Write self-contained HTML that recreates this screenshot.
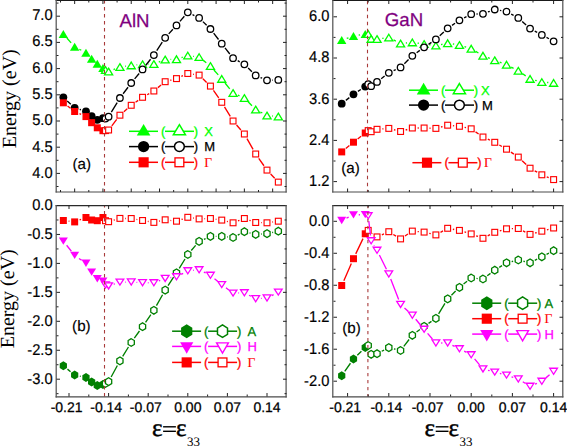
<!DOCTYPE html>
<html><head><meta charset="utf-8"><title>AlN GaN strain</title>
<style>
html,body{margin:0;padding:0;background:#fff;}
body{width:567px;height:446px;overflow:hidden;font-family:"Liberation Sans", sans-serif;}
svg{display:block;}
</style></head>
<body>
<svg text-rendering="geometricPrecision" width="567" height="446" viewBox="0 0 567 446">
<rect x="0" y="0" width="567" height="446" fill="#fff"/>
<path d="M66.87 38.06L71.13 42.84M79.36 49.25L81.27 50.25M113.53 69.54L114.99 68.96M125.16 66.26L125.98 66.14M136.51 64.89L137.27 64.81M147.84 64.16L148.56 64.14M158.78 62.04L160.25 61.46M170.47 59.36L171.19 59.34M181.54 57.59L182.75 57.21M193.05 56.3L193.86 56.4M203.28 60.38L206.26 62.72M213.92 69.98L218.25 74.92M225.06 83.03L229.74 88.87M237.9 95.14L239.52 95.86M248.09 101.78L251.97 105.72M260.37 111.98L262.32 113.02M272.28 115.97L273.03 116.03" fill="none" stroke="#00ff00" stroke-width="1.35" stroke-linecap="butt"/>
<polygon points="63.35,30.1 68.05,38.1 58.65,38.1" fill="#00ff00" stroke="none" stroke-width="0" stroke-linejoin="miter"/>
<polygon points="74.66,42.8 79.36,50.8 69.96,50.8" fill="#00ff00" stroke="none" stroke-width="0" stroke-linejoin="miter"/>
<polygon points="85.97,48.7 90.67,56.7 81.27,56.7" fill="#00ff00" stroke="none" stroke-width="0" stroke-linejoin="miter"/>
<polygon points="91.63,54.8 96.33,62.8 86.93,62.8" fill="#00ff00" stroke="none" stroke-width="0" stroke-linejoin="miter"/>
<polygon points="97.29,59.7 101.99,67.7 92.59,67.7" fill="#00ff00" stroke="none" stroke-width="0" stroke-linejoin="miter"/>
<polygon points="102.95,64 107.65,72 98.25,72" fill="#00ff00" stroke="none" stroke-width="0" stroke-linejoin="miter"/>
<polygon points="105.49,66.65 109.54,73.35 101.44,73.35" fill="#fff" stroke="#00ff00" stroke-width="1.3" stroke-linejoin="miter"/>
<polygon points="108.6,68.15 112.65,74.85 104.55,74.85" fill="#fff" stroke="#00ff00" stroke-width="1.3" stroke-linejoin="miter"/>
<polygon points="119.92,63.65 123.97,70.35 115.87,70.35" fill="#fff" stroke="#00ff00" stroke-width="1.3" stroke-linejoin="miter"/>
<polygon points="131.23,62.05 135.28,68.75 127.18,68.75" fill="#fff" stroke="#00ff00" stroke-width="1.3" stroke-linejoin="miter"/>
<polygon points="142.54,60.95 146.59,67.65 138.49,67.65" fill="#fff" stroke="#00ff00" stroke-width="1.3" stroke-linejoin="miter"/>
<polygon points="153.86,60.65 157.91,67.35 149.81,67.35" fill="#fff" stroke="#00ff00" stroke-width="1.3" stroke-linejoin="miter"/>
<polygon points="165.17,56.15 169.22,62.85 161.12,62.85" fill="#fff" stroke="#00ff00" stroke-width="1.3" stroke-linejoin="miter"/>
<polygon points="176.49,55.85 180.54,62.55 172.44,62.55" fill="#fff" stroke="#00ff00" stroke-width="1.3" stroke-linejoin="miter"/>
<polygon points="187.8,52.25 191.85,58.95 183.75,58.95" fill="#fff" stroke="#00ff00" stroke-width="1.3" stroke-linejoin="miter"/>
<polygon points="199.11,53.75 203.16,60.45 195.06,60.45" fill="#fff" stroke="#00ff00" stroke-width="1.3" stroke-linejoin="miter"/>
<polygon points="210.43,62.65 214.48,69.35 206.38,69.35" fill="#fff" stroke="#00ff00" stroke-width="1.3" stroke-linejoin="miter"/>
<polygon points="221.74,75.55 225.79,82.25 217.69,82.25" fill="#fff" stroke="#00ff00" stroke-width="1.3" stroke-linejoin="miter"/>
<polygon points="233.06,89.65 237.11,96.35 229.01,96.35" fill="#fff" stroke="#00ff00" stroke-width="1.3" stroke-linejoin="miter"/>
<polygon points="244.37,94.65 248.42,101.35 240.32,101.35" fill="#fff" stroke="#00ff00" stroke-width="1.3" stroke-linejoin="miter"/>
<polygon points="255.68,106.15 259.73,112.85 251.63,112.85" fill="#fff" stroke="#00ff00" stroke-width="1.3" stroke-linejoin="miter"/>
<polygon points="267,112.15 271.05,118.85 262.95,118.85" fill="#fff" stroke="#00ff00" stroke-width="1.3" stroke-linejoin="miter"/>
<polygon points="278.31,113.15 282.36,119.85 274.26,119.85" fill="#fff" stroke="#00ff00" stroke-width="1.3" stroke-linejoin="miter"/>
<path d="M67.23 100.91L70.78 104.19M79.72 109.37L80.91 109.73M111.35 112.17L117.17 102.53M123.11 93.77L128.04 87.23M134.62 78.93L139.15 73.47M145.83 65.24L150.57 59.26M156.76 50.66L162.27 42.24M168.74 33.88L172.91 29.32M179.95 21.39L184.34 16.31M192.55 14.65L194.36 15.55M202.9 21.61L206.64 25.29M213.66 33.2L218.51 39.5M225 47.88L229.8 54.02M237.72 60.72L239.7 61.78M248.15 68.01L251.9 71.69M260.55 77.51L262.13 78.19M272.29 80.11L273.02 80.09" fill="none" stroke="#000000" stroke-width="1.35" stroke-linecap="butt"/>
<circle cx="63.35" cy="97.3" r="3.9" fill="#000000"/>
<circle cx="74.66" cy="107.8" r="3.9" fill="#000000"/>
<circle cx="85.97" cy="111.3" r="3.9" fill="#000000"/>
<circle cx="91.63" cy="116.1" r="3.9" fill="#000000"/>
<circle cx="97.29" cy="119.8" r="3.9" fill="#000000"/>
<circle cx="102.95" cy="118.2" r="3.9" fill="#000000"/>
<circle cx="105.49" cy="118.6" r="3.25" fill="#fff" stroke="#000000" stroke-width="1.3"/>
<circle cx="108.6" cy="116.7" r="3.25" fill="#fff" stroke="#000000" stroke-width="1.3"/>
<circle cx="119.92" cy="98" r="3.25" fill="#fff" stroke="#000000" stroke-width="1.3"/>
<circle cx="131.23" cy="83" r="3.25" fill="#fff" stroke="#000000" stroke-width="1.3"/>
<circle cx="142.54" cy="69.4" r="3.25" fill="#fff" stroke="#000000" stroke-width="1.3"/>
<circle cx="153.86" cy="55.1" r="3.25" fill="#fff" stroke="#000000" stroke-width="1.3"/>
<circle cx="165.17" cy="37.8" r="3.25" fill="#fff" stroke="#000000" stroke-width="1.3"/>
<circle cx="176.49" cy="25.4" r="3.25" fill="#fff" stroke="#000000" stroke-width="1.3"/>
<circle cx="187.8" cy="12.3" r="3.25" fill="#fff" stroke="#000000" stroke-width="1.3"/>
<circle cx="199.11" cy="17.9" r="3.25" fill="#fff" stroke="#000000" stroke-width="1.3"/>
<circle cx="210.43" cy="29" r="3.25" fill="#fff" stroke="#000000" stroke-width="1.3"/>
<circle cx="221.74" cy="43.7" r="3.25" fill="#fff" stroke="#000000" stroke-width="1.3"/>
<circle cx="233.06" cy="58.2" r="3.25" fill="#fff" stroke="#000000" stroke-width="1.3"/>
<circle cx="244.37" cy="64.3" r="3.25" fill="#fff" stroke="#000000" stroke-width="1.3"/>
<circle cx="255.68" cy="75.4" r="3.25" fill="#fff" stroke="#000000" stroke-width="1.3"/>
<circle cx="267" cy="80.3" r="3.25" fill="#fff" stroke="#000000" stroke-width="1.3"/>
<circle cx="278.31" cy="79.9" r="3.25" fill="#fff" stroke="#000000" stroke-width="1.3"/>
<path d="M67.55 106.03L70.46 108.27M79.49 113.68L81.14 114.42M111.82 125.79L116.7 119.41M123.9 111.71L127.24 108.79M135.56 102.24L138.22 100.36M147.17 94.72L149.23 93.58M157.95 87.63L161.08 85.07M170.28 80.3L171.37 80M181.32 76.42L182.97 75.68M193.05 74.24L193.87 74.36M202.91 78.79L206.63 82.41M213.46 90.45L218.71 97.95M224.49 106.83L230.31 116.47M236.54 125L240.89 130M246.98 138.61L253.07 149.39M258.73 158.34L263.95 165.76M270.63 173.96L274.68 178.24" fill="none" stroke="#ff0000" stroke-width="1.35" stroke-linecap="butt"/>
<rect x="59.85" y="99.3" width="7" height="7" fill="#ff0000"/>
<rect x="71.16" y="108" width="7" height="7" fill="#ff0000"/>
<rect x="82.47" y="113.1" width="7" height="7" fill="#ff0000"/>
<rect x="88.13" y="119.2" width="7" height="7" fill="#ff0000"/>
<rect x="93.79" y="124.3" width="7" height="7" fill="#ff0000"/>
<rect x="99.45" y="127.2" width="7" height="7" fill="#ff0000"/>
<rect x="102.56" y="127.67" width="5.86" height="5.86" fill="#fff" stroke="#ff0000" stroke-width="1.14"/>
<rect x="105.67" y="127.07" width="5.86" height="5.86" fill="#fff" stroke="#ff0000" stroke-width="1.14"/>
<rect x="116.99" y="112.27" width="5.86" height="5.86" fill="#fff" stroke="#ff0000" stroke-width="1.14"/>
<rect x="128.3" y="102.37" width="5.86" height="5.86" fill="#fff" stroke="#ff0000" stroke-width="1.14"/>
<rect x="139.62" y="94.37" width="5.86" height="5.86" fill="#fff" stroke="#ff0000" stroke-width="1.14"/>
<rect x="150.93" y="88.07" width="5.86" height="5.86" fill="#fff" stroke="#ff0000" stroke-width="1.14"/>
<rect x="162.24" y="78.77" width="5.86" height="5.86" fill="#fff" stroke="#ff0000" stroke-width="1.14"/>
<rect x="173.56" y="75.67" width="5.86" height="5.86" fill="#fff" stroke="#ff0000" stroke-width="1.14"/>
<rect x="184.87" y="70.57" width="5.86" height="5.86" fill="#fff" stroke="#ff0000" stroke-width="1.14"/>
<rect x="196.19" y="72.17" width="5.86" height="5.86" fill="#fff" stroke="#ff0000" stroke-width="1.14"/>
<rect x="207.5" y="83.17" width="5.86" height="5.86" fill="#fff" stroke="#ff0000" stroke-width="1.14"/>
<rect x="218.81" y="99.37" width="5.86" height="5.86" fill="#fff" stroke="#ff0000" stroke-width="1.14"/>
<rect x="230.13" y="118.07" width="5.86" height="5.86" fill="#fff" stroke="#ff0000" stroke-width="1.14"/>
<rect x="241.44" y="131.07" width="5.86" height="5.86" fill="#fff" stroke="#ff0000" stroke-width="1.14"/>
<rect x="252.76" y="151.07" width="5.86" height="5.86" fill="#fff" stroke="#ff0000" stroke-width="1.14"/>
<rect x="264.07" y="167.17" width="5.86" height="5.86" fill="#fff" stroke="#ff0000" stroke-width="1.14"/>
<rect x="275.38" y="179.17" width="5.86" height="5.86" fill="#fff" stroke="#ff0000" stroke-width="1.14"/>
<path d="M67.46 369.14L70.55 371.66M79.84 376.1L80.79 376.3M111.14 376.95L117.37 365.55M122.69 356.39L128.45 347.01M134.32 338.19L139.46 331.01M145.55 322.34L150.85 314.66M156.45 305.68L162.58 294.72M168.07 285.66L173.59 277.24M179.27 268.29L185.01 259.01M191.26 250.49L195.65 245.41M203.96 239.26L205.58 238.54M215.73 236.4L216.44 236.4M227.02 236.91L227.78 236.99M237.77 235.08L239.65 234.12M249.53 232.93L250.53 233.17M260.97 234.03L261.71 233.97M272.18 232.5L273.13 232.3" fill="none" stroke="#008000" stroke-width="1.35" stroke-linecap="butt"/>
<polygon points="63.35,361.3 59.72,363.55 59.72,368.05 63.35,370.3 66.97,368.05 66.97,363.55" fill="#008000" stroke="none" stroke-width="0" stroke-linejoin="miter"/>
<polygon points="74.66,370.5 71.04,372.75 71.04,377.25 74.66,379.5 78.28,377.25 78.28,372.75" fill="#008000" stroke="none" stroke-width="0" stroke-linejoin="miter"/>
<polygon points="85.97,372.9 82.35,375.15 82.35,379.65 85.97,381.9 89.6,379.65 89.6,375.15" fill="#008000" stroke="none" stroke-width="0" stroke-linejoin="miter"/>
<polygon points="91.63,377.5 88.01,379.75 88.01,384.25 91.63,386.5 95.26,384.25 95.26,379.75" fill="#008000" stroke="none" stroke-width="0" stroke-linejoin="miter"/>
<polygon points="97.29,380.9 93.66,383.15 93.66,387.65 97.29,389.9 100.91,387.65 100.91,383.15" fill="#008000" stroke="none" stroke-width="0" stroke-linejoin="miter"/>
<polygon points="102.95,379.9 99.32,382.15 99.32,386.65 102.95,388.9 106.57,386.65 106.57,382.15" fill="#008000" stroke="none" stroke-width="0" stroke-linejoin="miter"/>
<polygon points="105.49,379.65 102.39,381.57 102.39,385.43 105.49,387.35 108.59,385.43 108.59,381.57" fill="#fff" stroke="#008000" stroke-width="1.3" stroke-linejoin="miter"/>
<polygon points="108.6,377.75 105.5,379.68 105.5,383.53 108.6,385.45 111.7,383.53 111.7,379.68" fill="#fff" stroke="#008000" stroke-width="1.3" stroke-linejoin="miter"/>
<polygon points="119.92,357.05 116.82,358.97 116.82,362.82 119.92,364.75 123.02,362.82 123.02,358.97" fill="#fff" stroke="#008000" stroke-width="1.3" stroke-linejoin="miter"/>
<polygon points="131.23,338.65 128.13,340.57 128.13,344.43 131.23,346.35 134.33,344.43 134.33,340.57" fill="#fff" stroke="#008000" stroke-width="1.3" stroke-linejoin="miter"/>
<polygon points="142.54,322.85 139.44,324.77 139.44,328.62 142.54,330.55 145.64,328.62 145.64,324.77" fill="#fff" stroke="#008000" stroke-width="1.3" stroke-linejoin="miter"/>
<polygon points="153.86,306.45 150.76,308.38 150.76,312.23 153.86,314.15 156.96,312.23 156.96,308.38" fill="#fff" stroke="#008000" stroke-width="1.3" stroke-linejoin="miter"/>
<polygon points="165.17,286.25 162.07,288.18 162.07,292.03 165.17,293.95 168.27,292.03 168.27,288.18" fill="#fff" stroke="#008000" stroke-width="1.3" stroke-linejoin="miter"/>
<polygon points="176.49,268.95 173.39,270.88 173.39,274.73 176.49,276.65 179.59,274.73 179.59,270.88" fill="#fff" stroke="#008000" stroke-width="1.3" stroke-linejoin="miter"/>
<polygon points="187.8,250.65 184.7,252.57 184.7,256.43 187.8,258.35 190.9,256.43 190.9,252.57" fill="#fff" stroke="#008000" stroke-width="1.3" stroke-linejoin="miter"/>
<polygon points="199.11,237.55 196.01,239.47 196.01,243.33 199.11,245.25 202.21,243.33 202.21,239.47" fill="#fff" stroke="#008000" stroke-width="1.3" stroke-linejoin="miter"/>
<polygon points="210.43,232.55 207.33,234.47 207.33,238.33 210.43,240.25 213.53,238.33 213.53,234.47" fill="#fff" stroke="#008000" stroke-width="1.3" stroke-linejoin="miter"/>
<polygon points="221.74,232.55 218.64,234.47 218.64,238.33 221.74,240.25 224.84,238.33 224.84,234.47" fill="#fff" stroke="#008000" stroke-width="1.3" stroke-linejoin="miter"/>
<polygon points="233.06,233.65 229.96,235.57 229.96,239.43 233.06,241.35 236.16,239.43 236.16,235.57" fill="#fff" stroke="#008000" stroke-width="1.3" stroke-linejoin="miter"/>
<polygon points="244.37,227.85 241.27,229.77 241.27,233.62 244.37,235.55 247.47,233.62 247.47,229.77" fill="#fff" stroke="#008000" stroke-width="1.3" stroke-linejoin="miter"/>
<polygon points="255.68,230.55 252.58,232.47 252.58,236.33 255.68,238.25 258.78,236.33 258.78,232.47" fill="#fff" stroke="#008000" stroke-width="1.3" stroke-linejoin="miter"/>
<polygon points="267,229.75 263.9,231.67 263.9,235.53 267,237.45 270.1,235.53 270.1,231.67" fill="#fff" stroke="#008000" stroke-width="1.3" stroke-linejoin="miter"/>
<polygon points="278.31,227.35 275.21,229.27 275.21,233.12 278.31,235.05 281.41,233.12 281.41,229.27" fill="#fff" stroke="#008000" stroke-width="1.3" stroke-linejoin="miter"/>
<path d="M66.63 245.26L71.37 251.24M79.01 258.43L81.63 260.27M113.63 284.21L114.89 283.79M125.22 282.05L125.93 282.05M136.52 282.33L137.25 282.37M147.84 282.75L148.56 282.75M158.8 280.88L160.23 280.32M170.42 277.66L171.24 277.54M181.17 274.32L183.12 273.28M193.08 270.33L193.83 270.27M203.88 272.12L205.66 272.98M214.52 278.67L217.65 281.23M225.98 287.78L228.82 289.92M238.35 292.96L239.07 292.94M249.07 295.25L250.98 296.25M260.97 298.37L261.71 298.33M271.7 295.55L273.61 294.55" fill="none" stroke="#ff00ff" stroke-width="1.35" stroke-linecap="butt"/>
<polygon points="58.85,237.4 67.85,237.4 63.35,244.8" fill="#ff00ff" stroke="none" stroke-width="0" stroke-linejoin="miter"/>
<polygon points="70.16,251.7 79.16,251.7 74.66,259.1" fill="#ff00ff" stroke="none" stroke-width="0" stroke-linejoin="miter"/>
<polygon points="81.47,259.6 90.47,259.6 85.97,267" fill="#ff00ff" stroke="none" stroke-width="0" stroke-linejoin="miter"/>
<polygon points="87.13,268.4 96.13,268.4 91.63,275.8" fill="#ff00ff" stroke="none" stroke-width="0" stroke-linejoin="miter"/>
<polygon points="92.79,275 101.79,275 97.29,282.4" fill="#ff00ff" stroke="none" stroke-width="0" stroke-linejoin="miter"/>
<polygon points="98.45,277.4 107.45,277.4 102.95,284.8" fill="#ff00ff" stroke="none" stroke-width="0" stroke-linejoin="miter"/>
<polygon points="101.64,281.95 109.34,281.95 105.49,288.05" fill="#fff" stroke="#ff00ff" stroke-width="1.3" stroke-linejoin="miter"/>
<polygon points="104.75,282.85 112.45,282.85 108.6,288.95" fill="#fff" stroke="#ff00ff" stroke-width="1.3" stroke-linejoin="miter"/>
<polygon points="116.07,279.05 123.77,279.05 119.92,285.15" fill="#fff" stroke="#ff00ff" stroke-width="1.3" stroke-linejoin="miter"/>
<polygon points="127.38,278.95 135.08,278.95 131.23,285.05" fill="#fff" stroke="#ff00ff" stroke-width="1.3" stroke-linejoin="miter"/>
<polygon points="138.69,279.65 146.39,279.65 142.54,285.75" fill="#fff" stroke="#ff00ff" stroke-width="1.3" stroke-linejoin="miter"/>
<polygon points="150.01,279.75 157.71,279.75 153.86,285.85" fill="#fff" stroke="#ff00ff" stroke-width="1.3" stroke-linejoin="miter"/>
<polygon points="161.32,275.35 169.02,275.35 165.17,281.45" fill="#fff" stroke="#ff00ff" stroke-width="1.3" stroke-linejoin="miter"/>
<polygon points="172.64,273.75 180.34,273.75 176.49,279.85" fill="#fff" stroke="#ff00ff" stroke-width="1.3" stroke-linejoin="miter"/>
<polygon points="183.95,267.75 191.65,267.75 187.8,273.85" fill="#fff" stroke="#ff00ff" stroke-width="1.3" stroke-linejoin="miter"/>
<polygon points="195.26,266.75 202.96,266.75 199.11,272.85" fill="#fff" stroke="#ff00ff" stroke-width="1.3" stroke-linejoin="miter"/>
<polygon points="206.58,272.25 214.28,272.25 210.43,278.35" fill="#fff" stroke="#ff00ff" stroke-width="1.3" stroke-linejoin="miter"/>
<polygon points="217.89,281.55 225.59,281.55 221.74,287.65" fill="#fff" stroke="#ff00ff" stroke-width="1.3" stroke-linejoin="miter"/>
<polygon points="229.21,290.05 236.91,290.05 233.06,296.15" fill="#fff" stroke="#ff00ff" stroke-width="1.3" stroke-linejoin="miter"/>
<polygon points="240.52,289.75 248.22,289.75 244.37,295.85" fill="#fff" stroke="#ff00ff" stroke-width="1.3" stroke-linejoin="miter"/>
<polygon points="251.83,295.65 259.53,295.65 255.68,301.75" fill="#fff" stroke="#ff00ff" stroke-width="1.3" stroke-linejoin="miter"/>
<polygon points="263.15,294.95 270.85,294.95 267,301.05" fill="#fff" stroke="#ff00ff" stroke-width="1.3" stroke-linejoin="miter"/>
<polygon points="274.46,289.05 282.16,289.05 278.31,295.15" fill="#fff" stroke="#ff00ff" stroke-width="1.3" stroke-linejoin="miter"/>
<path d="M68.61 221.15L69.4 221.25M79.6 219.98L81.03 219.42M113.69 220.22L114.83 219.88M125.22 218.45L125.93 218.45M136.45 219.42L137.32 219.58M147.77 221.38L148.63 221.52M159.02 221.21L160.01 220.99M170.43 220.45L171.23 220.55M181.5 219.47L182.79 219.03M193.05 218.04L193.87 218.16M204.41 218.71L205.13 218.69M215.68 219.24L216.49 219.36M226.9 221.33L227.9 221.57M238.01 220.92L239.42 220.38M249.37 220.27L250.69 220.73M260.98 222.64L261.7 222.66M272.25 222.06L273.06 221.94" fill="none" stroke="#ff0000" stroke-width="1.35" stroke-linecap="butt"/>
<rect x="59.85" y="217" width="7" height="7" fill="#ff0000"/>
<rect x="71.16" y="218.4" width="7" height="7" fill="#ff0000"/>
<rect x="82.47" y="214" width="7" height="7" fill="#ff0000"/>
<rect x="88.13" y="216.5" width="7" height="7" fill="#ff0000"/>
<rect x="93.79" y="217.2" width="7" height="7" fill="#ff0000"/>
<rect x="99.45" y="214" width="7" height="7" fill="#ff0000"/>
<rect x="102.56" y="217.77" width="5.86" height="5.86" fill="#fff" stroke="#ff0000" stroke-width="1.14"/>
<rect x="105.67" y="218.77" width="5.86" height="5.86" fill="#fff" stroke="#ff0000" stroke-width="1.14"/>
<rect x="116.99" y="215.47" width="5.86" height="5.86" fill="#fff" stroke="#ff0000" stroke-width="1.14"/>
<rect x="128.3" y="215.57" width="5.86" height="5.86" fill="#fff" stroke="#ff0000" stroke-width="1.14"/>
<rect x="139.62" y="217.57" width="5.86" height="5.86" fill="#fff" stroke="#ff0000" stroke-width="1.14"/>
<rect x="150.93" y="219.47" width="5.86" height="5.86" fill="#fff" stroke="#ff0000" stroke-width="1.14"/>
<rect x="162.24" y="216.87" width="5.86" height="5.86" fill="#fff" stroke="#ff0000" stroke-width="1.14"/>
<rect x="173.56" y="218.27" width="5.86" height="5.86" fill="#fff" stroke="#ff0000" stroke-width="1.14"/>
<rect x="184.87" y="214.37" width="5.86" height="5.86" fill="#fff" stroke="#ff0000" stroke-width="1.14"/>
<rect x="196.19" y="215.97" width="5.86" height="5.86" fill="#fff" stroke="#ff0000" stroke-width="1.14"/>
<rect x="207.5" y="215.57" width="5.86" height="5.86" fill="#fff" stroke="#ff0000" stroke-width="1.14"/>
<rect x="218.81" y="217.17" width="5.86" height="5.86" fill="#fff" stroke="#ff0000" stroke-width="1.14"/>
<rect x="230.13" y="219.87" width="5.86" height="5.86" fill="#fff" stroke="#ff0000" stroke-width="1.14"/>
<rect x="241.44" y="215.57" width="5.86" height="5.86" fill="#fff" stroke="#ff0000" stroke-width="1.14"/>
<rect x="252.76" y="219.57" width="5.86" height="5.86" fill="#fff" stroke="#ff0000" stroke-width="1.14"/>
<rect x="264.07" y="219.87" width="5.86" height="5.86" fill="#fff" stroke="#ff0000" stroke-width="1.14"/>
<rect x="275.38" y="218.27" width="5.86" height="5.86" fill="#fff" stroke="#ff0000" stroke-width="1.14"/>
<path d="M346.74 38.33L348.45 37.77M358.69 35.13L360.04 34.87M382.29 38.37L383.53 38.23M393.53 39.97L395.83 41.13M405.85 43.01L407.06 42.89M417.59 43.11L418.86 43.29M429.36 44.71L430.63 44.89M441.08 44.54L442.46 44.26M452.9 44L454.19 44.2M464.48 46.59L466.14 47.11M475.76 51.41L478.42 52.99M487.91 57.63L489.81 58.37M499.71 62.16L501.55 62.84M511.22 67.14L513.58 68.36M522.65 73.8L525.69 75.9M535.17 80.29L536.72 80.71M547.12 82.46L548.32 82.54" fill="none" stroke="#00ff00" stroke-width="1.35" stroke-linecap="butt"/>
<polygon points="341.71,36 346.41,44 337.01,44" fill="#00ff00" stroke="none" stroke-width="0" stroke-linejoin="miter"/>
<polygon points="353.48,32.1 358.18,40.1 348.78,40.1" fill="#00ff00" stroke="none" stroke-width="0" stroke-linejoin="miter"/>
<polygon points="365.25,29.9 369.95,37.9 360.55,37.9" fill="#00ff00" stroke="none" stroke-width="0" stroke-linejoin="miter"/>
<polygon points="368.19,30.65 372.25,37.35 364.14,37.35" fill="#fff" stroke="#00ff00" stroke-width="1.3" stroke-linejoin="miter"/>
<polygon points="371.14,35.55 375.19,42.25 367.09,42.25" fill="#fff" stroke="#00ff00" stroke-width="1.3" stroke-linejoin="miter"/>
<polygon points="377.02,35.65 381.07,42.35 372.97,42.35" fill="#fff" stroke="#00ff00" stroke-width="1.3" stroke-linejoin="miter"/>
<polygon points="388.8,34.25 392.85,40.95 384.75,40.95" fill="#fff" stroke="#00ff00" stroke-width="1.3" stroke-linejoin="miter"/>
<polygon points="400.57,40.15 404.62,46.85 396.52,46.85" fill="#fff" stroke="#00ff00" stroke-width="1.3" stroke-linejoin="miter"/>
<polygon points="412.34,39.05 416.39,45.75 408.29,45.75" fill="#fff" stroke="#00ff00" stroke-width="1.3" stroke-linejoin="miter"/>
<polygon points="424.11,40.65 428.16,47.35 420.06,47.35" fill="#fff" stroke="#00ff00" stroke-width="1.3" stroke-linejoin="miter"/>
<polygon points="435.88,42.25 439.93,48.95 431.83,48.95" fill="#fff" stroke="#00ff00" stroke-width="1.3" stroke-linejoin="miter"/>
<polygon points="447.66,39.85 451.71,46.55 443.61,46.55" fill="#fff" stroke="#00ff00" stroke-width="1.3" stroke-linejoin="miter"/>
<polygon points="459.43,41.65 463.48,48.35 455.38,48.35" fill="#fff" stroke="#00ff00" stroke-width="1.3" stroke-linejoin="miter"/>
<polygon points="471.2,45.35 475.25,52.05 467.15,52.05" fill="#fff" stroke="#00ff00" stroke-width="1.3" stroke-linejoin="miter"/>
<polygon points="482.97,52.35 487.02,59.05 478.92,59.05" fill="#fff" stroke="#00ff00" stroke-width="1.3" stroke-linejoin="miter"/>
<polygon points="494.74,56.95 498.79,63.65 490.69,63.65" fill="#fff" stroke="#00ff00" stroke-width="1.3" stroke-linejoin="miter"/>
<polygon points="506.52,61.35 510.57,68.05 502.47,68.05" fill="#fff" stroke="#00ff00" stroke-width="1.3" stroke-linejoin="miter"/>
<polygon points="518.29,67.45 522.34,74.15 514.24,74.15" fill="#fff" stroke="#00ff00" stroke-width="1.3" stroke-linejoin="miter"/>
<polygon points="530.06,75.55 534.11,82.25 526.01,82.25" fill="#fff" stroke="#00ff00" stroke-width="1.3" stroke-linejoin="miter"/>
<polygon points="541.83,78.75 545.88,85.45 537.78,85.45" fill="#fff" stroke="#00ff00" stroke-width="1.3" stroke-linejoin="miter"/>
<polygon points="553.6,79.55 557.65,86.25 549.55,86.25" fill="#fff" stroke="#00ff00" stroke-width="1.3" stroke-linejoin="miter"/>
<path d="M345.85 100.39L349.34 97.61M357.92 91.4L360.82 89.5M381.22 78.66L384.6 76.04M393.61 70.59L395.75 69.61M404.34 63.68L408.56 59.52M416.64 52.7L419.82 50.4M428.51 44.35L431.48 42.35M439.74 35.76L443.8 31.94M452.04 25.32L455.04 23.28M464.13 17.86L466.49 16.64M476.5 14.02L477.68 13.98M487.95 11.98L489.77 11.32M499.96 10.43L501.3 10.67M511.19 14.1L513.62 15.4M522.21 21.46L526.14 25.04M534.73 31.1L537.16 32.4M546.49 37.43L548.95 38.77" fill="none" stroke="#000000" stroke-width="1.35" stroke-linecap="butt"/>
<circle cx="341.71" cy="103.7" r="3.9" fill="#000000"/>
<circle cx="353.48" cy="94.3" r="3.9" fill="#000000"/>
<circle cx="365.25" cy="86.6" r="3.9" fill="#000000"/>
<circle cx="368.19" cy="84.2" r="3.25" fill="#fff" stroke="#000000" stroke-width="1.3"/>
<circle cx="371.14" cy="86.2" r="3.25" fill="#fff" stroke="#000000" stroke-width="1.3"/>
<circle cx="377.02" cy="81.9" r="3.25" fill="#fff" stroke="#000000" stroke-width="1.3"/>
<circle cx="388.8" cy="72.8" r="3.25" fill="#fff" stroke="#000000" stroke-width="1.3"/>
<circle cx="400.57" cy="67.4" r="3.25" fill="#fff" stroke="#000000" stroke-width="1.3"/>
<circle cx="412.34" cy="55.8" r="3.25" fill="#fff" stroke="#000000" stroke-width="1.3"/>
<circle cx="424.11" cy="47.3" r="3.25" fill="#fff" stroke="#000000" stroke-width="1.3"/>
<circle cx="435.88" cy="39.4" r="3.25" fill="#fff" stroke="#000000" stroke-width="1.3"/>
<circle cx="447.66" cy="28.3" r="3.25" fill="#fff" stroke="#000000" stroke-width="1.3"/>
<circle cx="459.43" cy="20.3" r="3.25" fill="#fff" stroke="#000000" stroke-width="1.3"/>
<circle cx="471.2" cy="14.2" r="3.25" fill="#fff" stroke="#000000" stroke-width="1.3"/>
<circle cx="482.97" cy="13.8" r="3.25" fill="#fff" stroke="#000000" stroke-width="1.3"/>
<circle cx="494.74" cy="9.5" r="3.25" fill="#fff" stroke="#000000" stroke-width="1.3"/>
<circle cx="506.52" cy="11.6" r="3.25" fill="#fff" stroke="#000000" stroke-width="1.3"/>
<circle cx="518.29" cy="17.9" r="3.25" fill="#fff" stroke="#000000" stroke-width="1.3"/>
<circle cx="530.06" cy="28.6" r="3.25" fill="#fff" stroke="#000000" stroke-width="1.3"/>
<circle cx="541.83" cy="34.9" r="3.25" fill="#fff" stroke="#000000" stroke-width="1.3"/>
<circle cx="553.6" cy="41.3" r="3.25" fill="#fff" stroke="#000000" stroke-width="1.3"/>
<path d="M345.8 148.53L349.39 145.57M357.66 138.94L361.08 136.26M382.31 128.9L383.51 128.8M393.92 129.75L395.44 130.15M405.65 129.99L407.26 129.51M417.64 128L418.81 128M429.41 128.18L430.59 128.22M441 127.01L442.54 126.59M452.93 125.69L454.15 125.81M464.61 127.4L466.02 127.7M475.55 131.83L478.62 133.97M487.8 139.18L489.91 140.12M499.32 144.98L501.94 146.52M510.92 152.15L513.89 154.15M522.14 160.74L526.2 164.56M534.68 170.79L537.21 172.21M546.74 176.8L548.7 177.6" fill="none" stroke="#ff0000" stroke-width="1.35" stroke-linecap="butt"/>
<rect x="338.21" y="148.4" width="7" height="7" fill="#ff0000"/>
<rect x="349.98" y="138.7" width="7" height="7" fill="#ff0000"/>
<rect x="361.75" y="129.5" width="7" height="7" fill="#ff0000"/>
<rect x="365.27" y="127.67" width="5.86" height="5.86" fill="#fff" stroke="#ff0000" stroke-width="1.14"/>
<rect x="368.21" y="128.77" width="5.86" height="5.86" fill="#fff" stroke="#ff0000" stroke-width="1.14"/>
<rect x="374.1" y="126.37" width="5.86" height="5.86" fill="#fff" stroke="#ff0000" stroke-width="1.14"/>
<rect x="385.87" y="125.47" width="5.86" height="5.86" fill="#fff" stroke="#ff0000" stroke-width="1.14"/>
<rect x="397.64" y="128.57" width="5.86" height="5.86" fill="#fff" stroke="#ff0000" stroke-width="1.14"/>
<rect x="409.41" y="125.07" width="5.86" height="5.86" fill="#fff" stroke="#ff0000" stroke-width="1.14"/>
<rect x="421.18" y="125.07" width="5.86" height="5.86" fill="#fff" stroke="#ff0000" stroke-width="1.14"/>
<rect x="432.96" y="125.47" width="5.86" height="5.86" fill="#fff" stroke="#ff0000" stroke-width="1.14"/>
<rect x="444.73" y="122.27" width="5.86" height="5.86" fill="#fff" stroke="#ff0000" stroke-width="1.14"/>
<rect x="456.5" y="123.37" width="5.86" height="5.86" fill="#fff" stroke="#ff0000" stroke-width="1.14"/>
<rect x="468.27" y="125.87" width="5.86" height="5.86" fill="#fff" stroke="#ff0000" stroke-width="1.14"/>
<rect x="480.04" y="134.07" width="5.86" height="5.86" fill="#fff" stroke="#ff0000" stroke-width="1.14"/>
<rect x="491.82" y="139.37" width="5.86" height="5.86" fill="#fff" stroke="#ff0000" stroke-width="1.14"/>
<rect x="503.59" y="146.27" width="5.86" height="5.86" fill="#fff" stroke="#ff0000" stroke-width="1.14"/>
<rect x="515.36" y="154.17" width="5.86" height="5.86" fill="#fff" stroke="#ff0000" stroke-width="1.14"/>
<rect x="527.13" y="165.27" width="5.86" height="5.86" fill="#fff" stroke="#ff0000" stroke-width="1.14"/>
<rect x="538.9" y="171.87" width="5.86" height="5.86" fill="#fff" stroke="#ff0000" stroke-width="1.14"/>
<rect x="550.68" y="176.67" width="5.86" height="5.86" fill="#fff" stroke="#ff0000" stroke-width="1.14"/>
<path d="M344.74 371.45L350.45 363.25M357.3 355.23L361.43 351.27M381.73 351.26L384.09 350.04M393.94 348.87L395.42 349.23M403.81 346.31L409.09 339.49M416.55 332.08L419.9 329.52M428.51 323.35L431.48 321.35M438.62 313.86L444.92 303.44M451.45 295.2L455.64 291.1M463.57 284.09L467.06 281.31M476.48 278.45L477.69 278.55M487.22 275.83L490.5 273.37M499.23 267.38L502.03 265.62M511.67 261.57L513.13 261.23M523.44 261.23L524.9 261.57M534.78 260.39L537.11 259.21M546.54 254.36L548.9 253.14" fill="none" stroke="#008000" stroke-width="1.35" stroke-linecap="butt"/>
<polygon points="341.71,371.3 338.08,373.55 338.08,378.05 341.71,380.3 345.33,378.05 345.33,373.55" fill="#008000" stroke="none" stroke-width="0" stroke-linejoin="miter"/>
<polygon points="353.48,354.4 349.86,356.65 349.86,361.15 353.48,363.4 357.1,361.15 357.1,356.65" fill="#008000" stroke="none" stroke-width="0" stroke-linejoin="miter"/>
<polygon points="365.25,343.1 361.63,345.35 361.63,349.85 365.25,352.1 368.88,349.85 368.88,345.35" fill="#008000" stroke="none" stroke-width="0" stroke-linejoin="miter"/>
<polygon points="368.19,341.65 365.09,343.57 365.09,347.43 368.19,349.35 371.3,347.43 371.3,343.57" fill="#fff" stroke="#008000" stroke-width="1.3" stroke-linejoin="miter"/>
<polygon points="371.14,350.45 368.04,352.38 368.04,356.23 371.14,358.15 374.24,356.23 374.24,352.38" fill="#fff" stroke="#008000" stroke-width="1.3" stroke-linejoin="miter"/>
<polygon points="377.02,349.85 373.92,351.77 373.92,355.62 377.02,357.55 380.12,355.62 380.12,351.77" fill="#fff" stroke="#008000" stroke-width="1.3" stroke-linejoin="miter"/>
<polygon points="388.8,343.75 385.7,345.68 385.7,349.53 388.8,351.45 391.9,349.53 391.9,345.68" fill="#fff" stroke="#008000" stroke-width="1.3" stroke-linejoin="miter"/>
<polygon points="400.57,346.65 397.47,348.57 397.47,352.43 400.57,354.35 403.67,352.43 403.67,348.57" fill="#fff" stroke="#008000" stroke-width="1.3" stroke-linejoin="miter"/>
<polygon points="412.34,331.45 409.24,333.38 409.24,337.23 412.34,339.15 415.44,337.23 415.44,333.38" fill="#fff" stroke="#008000" stroke-width="1.3" stroke-linejoin="miter"/>
<polygon points="424.11,322.45 421.01,324.38 421.01,328.23 424.11,330.15 427.21,328.23 427.21,324.38" fill="#fff" stroke="#008000" stroke-width="1.3" stroke-linejoin="miter"/>
<polygon points="435.88,314.55 432.78,316.47 432.78,320.32 435.88,322.25 438.98,320.32 438.98,316.47" fill="#fff" stroke="#008000" stroke-width="1.3" stroke-linejoin="miter"/>
<polygon points="447.66,295.05 444.56,296.97 444.56,300.82 447.66,302.75 450.76,300.82 450.76,296.97" fill="#fff" stroke="#008000" stroke-width="1.3" stroke-linejoin="miter"/>
<polygon points="459.43,283.55 456.33,285.47 456.33,289.32 459.43,291.25 462.53,289.32 462.53,285.47" fill="#fff" stroke="#008000" stroke-width="1.3" stroke-linejoin="miter"/>
<polygon points="471.2,274.15 468.1,276.07 468.1,279.93 471.2,281.85 474.3,279.93 474.3,276.07" fill="#fff" stroke="#008000" stroke-width="1.3" stroke-linejoin="miter"/>
<polygon points="482.97,275.15 479.87,277.07 479.87,280.93 482.97,282.85 486.07,280.93 486.07,277.07" fill="#fff" stroke="#008000" stroke-width="1.3" stroke-linejoin="miter"/>
<polygon points="494.74,266.35 491.64,268.27 491.64,272.12 494.74,274.05 497.84,272.12 497.84,268.27" fill="#fff" stroke="#008000" stroke-width="1.3" stroke-linejoin="miter"/>
<polygon points="506.52,258.95 503.42,260.88 503.42,264.73 506.52,266.65 509.62,264.73 509.62,260.88" fill="#fff" stroke="#008000" stroke-width="1.3" stroke-linejoin="miter"/>
<polygon points="518.29,256.15 515.19,258.07 515.19,261.93 518.29,263.85 521.39,261.93 521.39,258.07" fill="#fff" stroke="#008000" stroke-width="1.3" stroke-linejoin="miter"/>
<polygon points="530.06,258.95 526.96,260.88 526.96,264.73 530.06,266.65 533.16,264.73 533.16,260.88" fill="#fff" stroke="#008000" stroke-width="1.3" stroke-linejoin="miter"/>
<polygon points="541.83,252.95 538.73,254.88 538.73,258.73 541.83,260.65 544.93,258.73 544.93,254.88" fill="#fff" stroke="#008000" stroke-width="1.3" stroke-linejoin="miter"/>
<polygon points="553.6,246.85 550.5,248.77 550.5,252.62 553.6,254.55 556.7,252.62 556.7,248.77" fill="#fff" stroke="#008000" stroke-width="1.3" stroke-linejoin="miter"/>
<path d="M343.84 280.65L351.35 263.55M355.75 253.91L362.99 238.59M372.46 233.54L372.76 233.76M381.87 234.76L383.95 233.84M393.32 234.47L396.05 236.13M404.99 235.97L407.92 234.03M417.62 231.55L418.83 231.65M429.27 233.33L430.73 233.67M440.51 232.31L443.03 230.89M452.87 229.23L454.21 229.47M464.51 231.91L466.12 232.39M476.16 235.76L478.01 236.44M487.69 235.89L490.02 234.71M499.82 230.79L501.44 230.31M511.81 228.66L512.99 228.64M523.03 230.87L525.32 232.03M535.17 233.01L536.72 232.59M546.95 229.81L548.49 229.39" fill="none" stroke="#ff0000" stroke-width="1.35" stroke-linecap="butt"/>
<rect x="338.21" y="282" width="7" height="7" fill="#ff0000"/>
<rect x="349.98" y="255.2" width="7" height="7" fill="#ff0000"/>
<rect x="361.75" y="230.3" width="7" height="7" fill="#ff0000"/>
<rect x="365.27" y="227.47" width="5.86" height="5.86" fill="#fff" stroke="#ff0000" stroke-width="1.14"/>
<rect x="374.1" y="233.97" width="5.86" height="5.86" fill="#fff" stroke="#ff0000" stroke-width="1.14"/>
<rect x="385.87" y="228.77" width="5.86" height="5.86" fill="#fff" stroke="#ff0000" stroke-width="1.14"/>
<rect x="397.64" y="235.97" width="5.86" height="5.86" fill="#fff" stroke="#ff0000" stroke-width="1.14"/>
<rect x="409.41" y="228.17" width="5.86" height="5.86" fill="#fff" stroke="#ff0000" stroke-width="1.14"/>
<rect x="421.18" y="229.17" width="5.86" height="5.86" fill="#fff" stroke="#ff0000" stroke-width="1.14"/>
<rect x="432.96" y="231.97" width="5.86" height="5.86" fill="#fff" stroke="#ff0000" stroke-width="1.14"/>
<rect x="444.73" y="225.37" width="5.86" height="5.86" fill="#fff" stroke="#ff0000" stroke-width="1.14"/>
<rect x="456.5" y="227.47" width="5.86" height="5.86" fill="#fff" stroke="#ff0000" stroke-width="1.14"/>
<rect x="468.27" y="230.97" width="5.86" height="5.86" fill="#fff" stroke="#ff0000" stroke-width="1.14"/>
<rect x="480.04" y="235.37" width="5.86" height="5.86" fill="#fff" stroke="#ff0000" stroke-width="1.14"/>
<rect x="491.82" y="229.37" width="5.86" height="5.86" fill="#fff" stroke="#ff0000" stroke-width="1.14"/>
<rect x="503.59" y="225.87" width="5.86" height="5.86" fill="#fff" stroke="#ff0000" stroke-width="1.14"/>
<rect x="515.36" y="225.57" width="5.86" height="5.86" fill="#fff" stroke="#ff0000" stroke-width="1.14"/>
<rect x="527.13" y="231.47" width="5.86" height="5.86" fill="#fff" stroke="#ff0000" stroke-width="1.14"/>
<rect x="538.9" y="228.27" width="5.86" height="5.86" fill="#fff" stroke="#ff0000" stroke-width="1.14"/>
<rect x="550.68" y="225.07" width="5.86" height="5.86" fill="#fff" stroke="#ff0000" stroke-width="1.14"/>
<path d="M346.49 218.22L348.69 217.18M358.78 214.76L359.95 214.74M368.81 221.06L370.52 235.54M373.93 245.31L374.23 245.79M379.38 255.05L386.44 269.25M390.71 278.94L398.65 299.46M404.47 307.98L408.43 311.62M415.74 319.27L420.72 325.23M427.57 333.32L432.43 338.98M441.18 343L442.36 343M452.41 345.34L454.67 346.46M464.15 351.21L466.48 352.39M474.6 358.87L479.58 364.83M488.09 370.29L489.63 370.71M499.88 373.41L501.38 373.79M511.55 376.77L513.26 377.33M522.79 381.79L525.56 383.51M534.94 384.23L536.95 383.37M545.87 377.87L549.56 374.73" fill="none" stroke="#ff00ff" stroke-width="1.35" stroke-linecap="butt"/>
<polygon points="337.21,216.8 346.21,216.8 341.71,224.2" fill="#ff00ff" stroke="none" stroke-width="0" stroke-linejoin="miter"/>
<polygon points="348.98,211.2 357.98,211.2 353.48,218.6" fill="#ff00ff" stroke="none" stroke-width="0" stroke-linejoin="miter"/>
<polygon points="360.75,210.9 369.75,210.9 365.25,218.3" fill="#ff00ff" stroke="none" stroke-width="0" stroke-linejoin="miter"/>
<polygon points="364.34,212.75 372.05,212.75 368.19,218.85" fill="#fff" stroke="#ff00ff" stroke-width="1.3" stroke-linejoin="miter"/>
<polygon points="367.29,237.75 374.99,237.75 371.14,243.85" fill="#fff" stroke="#ff00ff" stroke-width="1.3" stroke-linejoin="miter"/>
<polygon points="373.17,247.25 380.87,247.25 377.02,253.35" fill="#fff" stroke="#ff00ff" stroke-width="1.3" stroke-linejoin="miter"/>
<polygon points="384.95,270.95 392.65,270.95 388.8,277.05" fill="#fff" stroke="#ff00ff" stroke-width="1.3" stroke-linejoin="miter"/>
<polygon points="396.72,301.35 404.42,301.35 400.57,307.45" fill="#fff" stroke="#ff00ff" stroke-width="1.3" stroke-linejoin="miter"/>
<polygon points="408.49,312.15 416.19,312.15 412.34,318.25" fill="#fff" stroke="#ff00ff" stroke-width="1.3" stroke-linejoin="miter"/>
<polygon points="420.26,326.25 427.96,326.25 424.11,332.35" fill="#fff" stroke="#ff00ff" stroke-width="1.3" stroke-linejoin="miter"/>
<polygon points="432.03,339.95 439.73,339.95 435.88,346.05" fill="#fff" stroke="#ff00ff" stroke-width="1.3" stroke-linejoin="miter"/>
<polygon points="443.81,339.95 451.51,339.95 447.66,346.05" fill="#fff" stroke="#ff00ff" stroke-width="1.3" stroke-linejoin="miter"/>
<polygon points="455.58,345.75 463.28,345.75 459.43,351.85" fill="#fff" stroke="#ff00ff" stroke-width="1.3" stroke-linejoin="miter"/>
<polygon points="467.35,351.75 475.05,351.75 471.2,357.85" fill="#fff" stroke="#ff00ff" stroke-width="1.3" stroke-linejoin="miter"/>
<polygon points="479.12,365.85 486.82,365.85 482.97,371.95" fill="#fff" stroke="#ff00ff" stroke-width="1.3" stroke-linejoin="miter"/>
<polygon points="490.89,369.05 498.59,369.05 494.74,375.15" fill="#fff" stroke="#ff00ff" stroke-width="1.3" stroke-linejoin="miter"/>
<polygon points="502.67,372.05 510.37,372.05 506.52,378.15" fill="#fff" stroke="#ff00ff" stroke-width="1.3" stroke-linejoin="miter"/>
<polygon points="514.44,375.95 522.14,375.95 518.29,382.05" fill="#fff" stroke="#ff00ff" stroke-width="1.3" stroke-linejoin="miter"/>
<polygon points="526.21,383.25 533.91,383.25 530.06,389.35" fill="#fff" stroke="#ff00ff" stroke-width="1.3" stroke-linejoin="miter"/>
<polygon points="537.98,378.25 545.68,378.25 541.83,384.35" fill="#fff" stroke="#ff00ff" stroke-width="1.3" stroke-linejoin="miter"/>
<polygon points="549.75,368.25 557.45,368.25 553.6,374.35" fill="#fff" stroke="#ff00ff" stroke-width="1.3" stroke-linejoin="miter"/>
<line x1="104.5" y1="0.5" x2="104.5" y2="192" stroke="#a83a3a" stroke-width="1.1" stroke-dasharray="3.4,3.6" stroke-dashoffset="0.4"/>
<line x1="104.5" y1="205.6" x2="104.5" y2="396.5" stroke="#a83a3a" stroke-width="1.1" stroke-dasharray="3.4,3.6" stroke-dashoffset="1.6"/>
<line x1="367.5" y1="0.5" x2="367.5" y2="192" stroke="#a83a3a" stroke-width="1.1" stroke-dasharray="3.4,3.6" stroke-dashoffset="6.7"/>
<line x1="367.9" y1="205.6" x2="367.9" y2="396.5" stroke="#a83a3a" stroke-width="1.1" stroke-dasharray="3.4,3.6" stroke-dashoffset="0.7"/>
<line x1="55.6" y1="0.5" x2="286.7" y2="0.5" stroke="#1a1a1a" stroke-width="1"/>
<line x1="55.6" y1="192" x2="286.7" y2="192" stroke="#4a4a4a" stroke-width="1.15"/>
<line x1="55.6" y1="205.6" x2="286.7" y2="205.6" stroke="#2a2a2a" stroke-width="1.1"/>
<line x1="55.6" y1="396.8" x2="286.7" y2="396.8" stroke="#4a4a4a" stroke-width="1.15"/>
<line x1="56.2" y1="0" x2="56.2" y2="192.6" stroke="#555" stroke-width="1.25"/>
<line x1="286.1" y1="0" x2="286.1" y2="192.6" stroke="#555" stroke-width="1.25"/>
<line x1="56.2" y1="205" x2="56.2" y2="397.4" stroke="#555" stroke-width="1.25"/>
<line x1="286.1" y1="205" x2="286.1" y2="397.4" stroke="#555" stroke-width="1.25"/>
<line x1="332.2" y1="0.5" x2="563.4" y2="0.5" stroke="#1a1a1a" stroke-width="1"/>
<line x1="332.2" y1="192" x2="563.4" y2="192" stroke="#4a4a4a" stroke-width="1.15"/>
<line x1="332.2" y1="205.6" x2="563.4" y2="205.6" stroke="#2a2a2a" stroke-width="1.1"/>
<line x1="332.2" y1="396.8" x2="563.4" y2="396.8" stroke="#4a4a4a" stroke-width="1.15"/>
<line x1="332.8" y1="0" x2="332.8" y2="192.6" stroke="#555" stroke-width="1.25"/>
<line x1="562.8" y1="0" x2="562.8" y2="192.6" stroke="#555" stroke-width="1.25"/>
<line x1="332.8" y1="205" x2="332.8" y2="397.4" stroke="#555" stroke-width="1.25"/>
<line x1="562.8" y1="205" x2="562.8" y2="397.4" stroke="#555" stroke-width="1.25"/>
<line x1="60.52" y1="192" x2="60.52" y2="190" stroke="#222" stroke-width="1"/>
<line x1="60.52" y1="0.5" x2="60.52" y2="2.5" stroke="#222" stroke-width="1"/>
<line x1="74.66" y1="192" x2="74.66" y2="188.5" stroke="#222" stroke-width="1"/>
<line x1="74.66" y1="0.5" x2="74.66" y2="4" stroke="#222" stroke-width="1"/>
<line x1="88.8" y1="192" x2="88.8" y2="190" stroke="#222" stroke-width="1"/>
<line x1="88.8" y1="0.5" x2="88.8" y2="2.5" stroke="#222" stroke-width="1"/>
<line x1="102.94" y1="192" x2="102.94" y2="188.5" stroke="#222" stroke-width="1"/>
<line x1="102.94" y1="0.5" x2="102.94" y2="4" stroke="#222" stroke-width="1"/>
<line x1="117.09" y1="192" x2="117.09" y2="190" stroke="#222" stroke-width="1"/>
<line x1="117.09" y1="0.5" x2="117.09" y2="2.5" stroke="#222" stroke-width="1"/>
<line x1="131.23" y1="192" x2="131.23" y2="188.5" stroke="#222" stroke-width="1"/>
<line x1="131.23" y1="0.5" x2="131.23" y2="4" stroke="#222" stroke-width="1"/>
<line x1="145.37" y1="192" x2="145.37" y2="190" stroke="#222" stroke-width="1"/>
<line x1="145.37" y1="0.5" x2="145.37" y2="2.5" stroke="#222" stroke-width="1"/>
<line x1="159.52" y1="192" x2="159.52" y2="188.5" stroke="#222" stroke-width="1"/>
<line x1="159.52" y1="0.5" x2="159.52" y2="4" stroke="#222" stroke-width="1"/>
<line x1="173.66" y1="192" x2="173.66" y2="190" stroke="#222" stroke-width="1"/>
<line x1="173.66" y1="0.5" x2="173.66" y2="2.5" stroke="#222" stroke-width="1"/>
<line x1="187.8" y1="192" x2="187.8" y2="188.5" stroke="#222" stroke-width="1"/>
<line x1="187.8" y1="0.5" x2="187.8" y2="4" stroke="#222" stroke-width="1"/>
<line x1="201.94" y1="192" x2="201.94" y2="190" stroke="#222" stroke-width="1"/>
<line x1="201.94" y1="0.5" x2="201.94" y2="2.5" stroke="#222" stroke-width="1"/>
<line x1="216.09" y1="192" x2="216.09" y2="188.5" stroke="#222" stroke-width="1"/>
<line x1="216.09" y1="0.5" x2="216.09" y2="4" stroke="#222" stroke-width="1"/>
<line x1="230.23" y1="192" x2="230.23" y2="190" stroke="#222" stroke-width="1"/>
<line x1="230.23" y1="0.5" x2="230.23" y2="2.5" stroke="#222" stroke-width="1"/>
<line x1="244.37" y1="192" x2="244.37" y2="188.5" stroke="#222" stroke-width="1"/>
<line x1="244.37" y1="0.5" x2="244.37" y2="4" stroke="#222" stroke-width="1"/>
<line x1="258.51" y1="192" x2="258.51" y2="190" stroke="#222" stroke-width="1"/>
<line x1="258.51" y1="0.5" x2="258.51" y2="2.5" stroke="#222" stroke-width="1"/>
<line x1="272.66" y1="192" x2="272.66" y2="188.5" stroke="#222" stroke-width="1"/>
<line x1="272.66" y1="0.5" x2="272.66" y2="4" stroke="#222" stroke-width="1"/>
<line x1="69" y1="396.5" x2="69" y2="393" stroke="#222" stroke-width="1"/>
<line x1="69" y1="205.5" x2="69" y2="209" stroke="#222" stroke-width="1"/>
<line x1="88.8" y1="396.5" x2="88.8" y2="394.5" stroke="#222" stroke-width="1"/>
<line x1="88.8" y1="205.5" x2="88.8" y2="207.5" stroke="#222" stroke-width="1"/>
<line x1="108.6" y1="396.5" x2="108.6" y2="393" stroke="#222" stroke-width="1"/>
<line x1="108.6" y1="205.5" x2="108.6" y2="209" stroke="#222" stroke-width="1"/>
<line x1="128.4" y1="396.5" x2="128.4" y2="394.5" stroke="#222" stroke-width="1"/>
<line x1="128.4" y1="205.5" x2="128.4" y2="207.5" stroke="#222" stroke-width="1"/>
<line x1="148.2" y1="396.5" x2="148.2" y2="393" stroke="#222" stroke-width="1"/>
<line x1="148.2" y1="205.5" x2="148.2" y2="209" stroke="#222" stroke-width="1"/>
<line x1="168" y1="396.5" x2="168" y2="394.5" stroke="#222" stroke-width="1"/>
<line x1="168" y1="205.5" x2="168" y2="207.5" stroke="#222" stroke-width="1"/>
<line x1="187.8" y1="396.5" x2="187.8" y2="393" stroke="#222" stroke-width="1"/>
<line x1="187.8" y1="205.5" x2="187.8" y2="209" stroke="#222" stroke-width="1"/>
<line x1="207.6" y1="396.5" x2="207.6" y2="394.5" stroke="#222" stroke-width="1"/>
<line x1="207.6" y1="205.5" x2="207.6" y2="207.5" stroke="#222" stroke-width="1"/>
<line x1="227.4" y1="396.5" x2="227.4" y2="393" stroke="#222" stroke-width="1"/>
<line x1="227.4" y1="205.5" x2="227.4" y2="209" stroke="#222" stroke-width="1"/>
<line x1="247.2" y1="396.5" x2="247.2" y2="394.5" stroke="#222" stroke-width="1"/>
<line x1="247.2" y1="205.5" x2="247.2" y2="207.5" stroke="#222" stroke-width="1"/>
<line x1="267" y1="396.5" x2="267" y2="393" stroke="#222" stroke-width="1"/>
<line x1="267" y1="205.5" x2="267" y2="209" stroke="#222" stroke-width="1"/>
<line x1="347.59" y1="192" x2="347.59" y2="188.5" stroke="#222" stroke-width="1"/>
<line x1="347.59" y1="0.5" x2="347.59" y2="4" stroke="#222" stroke-width="1"/>
<line x1="368.19" y1="192" x2="368.19" y2="190" stroke="#222" stroke-width="1"/>
<line x1="368.19" y1="0.5" x2="368.19" y2="2.5" stroke="#222" stroke-width="1"/>
<line x1="388.8" y1="192" x2="388.8" y2="188.5" stroke="#222" stroke-width="1"/>
<line x1="388.8" y1="0.5" x2="388.8" y2="4" stroke="#222" stroke-width="1"/>
<line x1="409.4" y1="192" x2="409.4" y2="190" stroke="#222" stroke-width="1"/>
<line x1="409.4" y1="0.5" x2="409.4" y2="2.5" stroke="#222" stroke-width="1"/>
<line x1="430" y1="192" x2="430" y2="188.5" stroke="#222" stroke-width="1"/>
<line x1="430" y1="0.5" x2="430" y2="4" stroke="#222" stroke-width="1"/>
<line x1="450.6" y1="192" x2="450.6" y2="190" stroke="#222" stroke-width="1"/>
<line x1="450.6" y1="0.5" x2="450.6" y2="2.5" stroke="#222" stroke-width="1"/>
<line x1="471.2" y1="192" x2="471.2" y2="188.5" stroke="#222" stroke-width="1"/>
<line x1="471.2" y1="0.5" x2="471.2" y2="4" stroke="#222" stroke-width="1"/>
<line x1="491.8" y1="192" x2="491.8" y2="190" stroke="#222" stroke-width="1"/>
<line x1="491.8" y1="0.5" x2="491.8" y2="2.5" stroke="#222" stroke-width="1"/>
<line x1="512.4" y1="192" x2="512.4" y2="188.5" stroke="#222" stroke-width="1"/>
<line x1="512.4" y1="0.5" x2="512.4" y2="4" stroke="#222" stroke-width="1"/>
<line x1="533" y1="192" x2="533" y2="190" stroke="#222" stroke-width="1"/>
<line x1="533" y1="0.5" x2="533" y2="2.5" stroke="#222" stroke-width="1"/>
<line x1="553.6" y1="192" x2="553.6" y2="188.5" stroke="#222" stroke-width="1"/>
<line x1="553.6" y1="0.5" x2="553.6" y2="4" stroke="#222" stroke-width="1"/>
<line x1="347.59" y1="396.5" x2="347.59" y2="393" stroke="#222" stroke-width="1"/>
<line x1="347.59" y1="205.5" x2="347.59" y2="209" stroke="#222" stroke-width="1"/>
<line x1="368.19" y1="396.5" x2="368.19" y2="394.5" stroke="#222" stroke-width="1"/>
<line x1="368.19" y1="205.5" x2="368.19" y2="207.5" stroke="#222" stroke-width="1"/>
<line x1="388.8" y1="396.5" x2="388.8" y2="393" stroke="#222" stroke-width="1"/>
<line x1="388.8" y1="205.5" x2="388.8" y2="209" stroke="#222" stroke-width="1"/>
<line x1="409.4" y1="396.5" x2="409.4" y2="394.5" stroke="#222" stroke-width="1"/>
<line x1="409.4" y1="205.5" x2="409.4" y2="207.5" stroke="#222" stroke-width="1"/>
<line x1="430" y1="396.5" x2="430" y2="393" stroke="#222" stroke-width="1"/>
<line x1="430" y1="205.5" x2="430" y2="209" stroke="#222" stroke-width="1"/>
<line x1="450.6" y1="396.5" x2="450.6" y2="394.5" stroke="#222" stroke-width="1"/>
<line x1="450.6" y1="205.5" x2="450.6" y2="207.5" stroke="#222" stroke-width="1"/>
<line x1="471.2" y1="396.5" x2="471.2" y2="393" stroke="#222" stroke-width="1"/>
<line x1="471.2" y1="205.5" x2="471.2" y2="209" stroke="#222" stroke-width="1"/>
<line x1="491.8" y1="396.5" x2="491.8" y2="394.5" stroke="#222" stroke-width="1"/>
<line x1="491.8" y1="205.5" x2="491.8" y2="207.5" stroke="#222" stroke-width="1"/>
<line x1="512.4" y1="396.5" x2="512.4" y2="393" stroke="#222" stroke-width="1"/>
<line x1="512.4" y1="205.5" x2="512.4" y2="209" stroke="#222" stroke-width="1"/>
<line x1="533" y1="396.5" x2="533" y2="394.5" stroke="#222" stroke-width="1"/>
<line x1="533" y1="205.5" x2="533" y2="207.5" stroke="#222" stroke-width="1"/>
<line x1="553.6" y1="396.5" x2="553.6" y2="393" stroke="#222" stroke-width="1"/>
<line x1="553.6" y1="205.5" x2="553.6" y2="209" stroke="#222" stroke-width="1"/>
<line x1="56.5" y1="3.1" x2="58.5" y2="3.1" stroke="#222" stroke-width="1"/>
<line x1="286.5" y1="3.1" x2="284.5" y2="3.1" stroke="#222" stroke-width="1"/>
<line x1="56.5" y1="16.2" x2="60" y2="16.2" stroke="#222" stroke-width="1"/>
<line x1="286.5" y1="16.2" x2="283" y2="16.2" stroke="#222" stroke-width="1"/>
<line x1="56.5" y1="29.3" x2="58.5" y2="29.3" stroke="#222" stroke-width="1"/>
<line x1="286.5" y1="29.3" x2="284.5" y2="29.3" stroke="#222" stroke-width="1"/>
<line x1="56.5" y1="42.4" x2="60" y2="42.4" stroke="#222" stroke-width="1"/>
<line x1="286.5" y1="42.4" x2="283" y2="42.4" stroke="#222" stroke-width="1"/>
<line x1="56.5" y1="55.5" x2="58.5" y2="55.5" stroke="#222" stroke-width="1"/>
<line x1="286.5" y1="55.5" x2="284.5" y2="55.5" stroke="#222" stroke-width="1"/>
<line x1="56.5" y1="68.6" x2="60" y2="68.6" stroke="#222" stroke-width="1"/>
<line x1="286.5" y1="68.6" x2="283" y2="68.6" stroke="#222" stroke-width="1"/>
<line x1="56.5" y1="81.7" x2="58.5" y2="81.7" stroke="#222" stroke-width="1"/>
<line x1="286.5" y1="81.7" x2="284.5" y2="81.7" stroke="#222" stroke-width="1"/>
<line x1="56.5" y1="94.8" x2="60" y2="94.8" stroke="#222" stroke-width="1"/>
<line x1="286.5" y1="94.8" x2="283" y2="94.8" stroke="#222" stroke-width="1"/>
<line x1="56.5" y1="107.9" x2="58.5" y2="107.9" stroke="#222" stroke-width="1"/>
<line x1="286.5" y1="107.9" x2="284.5" y2="107.9" stroke="#222" stroke-width="1"/>
<line x1="56.5" y1="121" x2="60" y2="121" stroke="#222" stroke-width="1"/>
<line x1="286.5" y1="121" x2="283" y2="121" stroke="#222" stroke-width="1"/>
<line x1="56.5" y1="134.1" x2="58.5" y2="134.1" stroke="#222" stroke-width="1"/>
<line x1="286.5" y1="134.1" x2="284.5" y2="134.1" stroke="#222" stroke-width="1"/>
<line x1="56.5" y1="147.2" x2="60" y2="147.2" stroke="#222" stroke-width="1"/>
<line x1="286.5" y1="147.2" x2="283" y2="147.2" stroke="#222" stroke-width="1"/>
<line x1="56.5" y1="160.3" x2="58.5" y2="160.3" stroke="#222" stroke-width="1"/>
<line x1="286.5" y1="160.3" x2="284.5" y2="160.3" stroke="#222" stroke-width="1"/>
<line x1="56.5" y1="173.4" x2="60" y2="173.4" stroke="#222" stroke-width="1"/>
<line x1="286.5" y1="173.4" x2="283" y2="173.4" stroke="#222" stroke-width="1"/>
<line x1="56.5" y1="186.5" x2="58.5" y2="186.5" stroke="#222" stroke-width="1"/>
<line x1="286.5" y1="186.5" x2="284.5" y2="186.5" stroke="#222" stroke-width="1"/>
<line x1="56.5" y1="219.97" x2="58.5" y2="219.97" stroke="#222" stroke-width="1"/>
<line x1="286.5" y1="219.97" x2="284.5" y2="219.97" stroke="#222" stroke-width="1"/>
<line x1="56.5" y1="234.45" x2="60" y2="234.45" stroke="#222" stroke-width="1"/>
<line x1="286.5" y1="234.45" x2="283" y2="234.45" stroke="#222" stroke-width="1"/>
<line x1="56.5" y1="248.93" x2="58.5" y2="248.93" stroke="#222" stroke-width="1"/>
<line x1="286.5" y1="248.93" x2="284.5" y2="248.93" stroke="#222" stroke-width="1"/>
<line x1="56.5" y1="263.4" x2="60" y2="263.4" stroke="#222" stroke-width="1"/>
<line x1="286.5" y1="263.4" x2="283" y2="263.4" stroke="#222" stroke-width="1"/>
<line x1="56.5" y1="277.88" x2="58.5" y2="277.88" stroke="#222" stroke-width="1"/>
<line x1="286.5" y1="277.88" x2="284.5" y2="277.88" stroke="#222" stroke-width="1"/>
<line x1="56.5" y1="292.35" x2="60" y2="292.35" stroke="#222" stroke-width="1"/>
<line x1="286.5" y1="292.35" x2="283" y2="292.35" stroke="#222" stroke-width="1"/>
<line x1="56.5" y1="306.82" x2="58.5" y2="306.82" stroke="#222" stroke-width="1"/>
<line x1="286.5" y1="306.82" x2="284.5" y2="306.82" stroke="#222" stroke-width="1"/>
<line x1="56.5" y1="321.3" x2="60" y2="321.3" stroke="#222" stroke-width="1"/>
<line x1="286.5" y1="321.3" x2="283" y2="321.3" stroke="#222" stroke-width="1"/>
<line x1="56.5" y1="335.77" x2="58.5" y2="335.77" stroke="#222" stroke-width="1"/>
<line x1="286.5" y1="335.77" x2="284.5" y2="335.77" stroke="#222" stroke-width="1"/>
<line x1="56.5" y1="350.25" x2="60" y2="350.25" stroke="#222" stroke-width="1"/>
<line x1="286.5" y1="350.25" x2="283" y2="350.25" stroke="#222" stroke-width="1"/>
<line x1="56.5" y1="364.73" x2="58.5" y2="364.73" stroke="#222" stroke-width="1"/>
<line x1="286.5" y1="364.73" x2="284.5" y2="364.73" stroke="#222" stroke-width="1"/>
<line x1="56.5" y1="379.2" x2="60" y2="379.2" stroke="#222" stroke-width="1"/>
<line x1="286.5" y1="379.2" x2="283" y2="379.2" stroke="#222" stroke-width="1"/>
<line x1="56.5" y1="393.67" x2="58.5" y2="393.67" stroke="#222" stroke-width="1"/>
<line x1="286.5" y1="393.67" x2="284.5" y2="393.67" stroke="#222" stroke-width="1"/>
<line x1="333.5" y1="16.8" x2="337" y2="16.8" stroke="#222" stroke-width="1"/>
<line x1="563" y1="16.8" x2="559.5" y2="16.8" stroke="#222" stroke-width="1"/>
<line x1="333.5" y1="37.4" x2="335.5" y2="37.4" stroke="#222" stroke-width="1"/>
<line x1="563" y1="37.4" x2="561" y2="37.4" stroke="#222" stroke-width="1"/>
<line x1="333.5" y1="58" x2="337" y2="58" stroke="#222" stroke-width="1"/>
<line x1="563" y1="58" x2="559.5" y2="58" stroke="#222" stroke-width="1"/>
<line x1="333.5" y1="78.6" x2="335.5" y2="78.6" stroke="#222" stroke-width="1"/>
<line x1="563" y1="78.6" x2="561" y2="78.6" stroke="#222" stroke-width="1"/>
<line x1="333.5" y1="99.2" x2="337" y2="99.2" stroke="#222" stroke-width="1"/>
<line x1="563" y1="99.2" x2="559.5" y2="99.2" stroke="#222" stroke-width="1"/>
<line x1="333.5" y1="119.8" x2="335.5" y2="119.8" stroke="#222" stroke-width="1"/>
<line x1="563" y1="119.8" x2="561" y2="119.8" stroke="#222" stroke-width="1"/>
<line x1="333.5" y1="140.4" x2="337" y2="140.4" stroke="#222" stroke-width="1"/>
<line x1="563" y1="140.4" x2="559.5" y2="140.4" stroke="#222" stroke-width="1"/>
<line x1="333.5" y1="161" x2="335.5" y2="161" stroke="#222" stroke-width="1"/>
<line x1="563" y1="161" x2="561" y2="161" stroke="#222" stroke-width="1"/>
<line x1="333.5" y1="181.6" x2="337" y2="181.6" stroke="#222" stroke-width="1"/>
<line x1="563" y1="181.6" x2="559.5" y2="181.6" stroke="#222" stroke-width="1"/>
<line x1="333.5" y1="221.3" x2="337" y2="221.3" stroke="#222" stroke-width="1"/>
<line x1="563" y1="221.3" x2="559.5" y2="221.3" stroke="#222" stroke-width="1"/>
<line x1="333.5" y1="237.29" x2="335.5" y2="237.29" stroke="#222" stroke-width="1"/>
<line x1="563" y1="237.29" x2="561" y2="237.29" stroke="#222" stroke-width="1"/>
<line x1="333.5" y1="253.28" x2="337" y2="253.28" stroke="#222" stroke-width="1"/>
<line x1="563" y1="253.28" x2="559.5" y2="253.28" stroke="#222" stroke-width="1"/>
<line x1="333.5" y1="269.27" x2="335.5" y2="269.27" stroke="#222" stroke-width="1"/>
<line x1="563" y1="269.27" x2="561" y2="269.27" stroke="#222" stroke-width="1"/>
<line x1="333.5" y1="285.26" x2="337" y2="285.26" stroke="#222" stroke-width="1"/>
<line x1="563" y1="285.26" x2="559.5" y2="285.26" stroke="#222" stroke-width="1"/>
<line x1="333.5" y1="301.25" x2="335.5" y2="301.25" stroke="#222" stroke-width="1"/>
<line x1="563" y1="301.25" x2="561" y2="301.25" stroke="#222" stroke-width="1"/>
<line x1="333.5" y1="317.24" x2="337" y2="317.24" stroke="#222" stroke-width="1"/>
<line x1="563" y1="317.24" x2="559.5" y2="317.24" stroke="#222" stroke-width="1"/>
<line x1="333.5" y1="333.23" x2="335.5" y2="333.23" stroke="#222" stroke-width="1"/>
<line x1="563" y1="333.23" x2="561" y2="333.23" stroke="#222" stroke-width="1"/>
<line x1="333.5" y1="349.22" x2="337" y2="349.22" stroke="#222" stroke-width="1"/>
<line x1="563" y1="349.22" x2="559.5" y2="349.22" stroke="#222" stroke-width="1"/>
<line x1="333.5" y1="365.21" x2="335.5" y2="365.21" stroke="#222" stroke-width="1"/>
<line x1="563" y1="365.21" x2="561" y2="365.21" stroke="#222" stroke-width="1"/>
<line x1="333.5" y1="381.2" x2="337" y2="381.2" stroke="#222" stroke-width="1"/>
<line x1="563" y1="381.2" x2="559.5" y2="381.2" stroke="#222" stroke-width="1"/>
<text transform="translate(52.6,19.9) scale(1,1.06)" font-size="14.7" text-anchor="end" fill="#000" stroke="#000" stroke-width="0.18" font-family='"Liberation Sans", sans-serif'>7.0</text>
<text transform="translate(52.6,46.25) scale(1,1.06)" font-size="14.7" text-anchor="end" fill="#000" stroke="#000" stroke-width="0.18" font-family='"Liberation Sans", sans-serif'>6.5</text>
<text transform="translate(52.6,72.6) scale(1,1.06)" font-size="14.7" text-anchor="end" fill="#000" stroke="#000" stroke-width="0.18" font-family='"Liberation Sans", sans-serif'>6.0</text>
<text transform="translate(52.6,98.95) scale(1,1.06)" font-size="14.7" text-anchor="end" fill="#000" stroke="#000" stroke-width="0.18" font-family='"Liberation Sans", sans-serif'>5.5</text>
<text transform="translate(52.6,125.3) scale(1,1.06)" font-size="14.7" text-anchor="end" fill="#000" stroke="#000" stroke-width="0.18" font-family='"Liberation Sans", sans-serif'>5.0</text>
<text transform="translate(52.6,151.65) scale(1,1.06)" font-size="14.7" text-anchor="end" fill="#000" stroke="#000" stroke-width="0.18" font-family='"Liberation Sans", sans-serif'>4.5</text>
<text transform="translate(52.6,178) scale(1,1.06)" font-size="14.7" text-anchor="end" fill="#000" stroke="#000" stroke-width="0.18" font-family='"Liberation Sans", sans-serif'>4.0</text>
<text transform="translate(52.6,209.9) scale(1,1.06)" font-size="14.7" text-anchor="end" fill="#000" stroke="#000" stroke-width="0.18" font-family='"Liberation Sans", sans-serif'>0.0</text>
<text transform="translate(52.6,238.85) scale(1,1.06)" font-size="14.7" text-anchor="end" fill="#000" stroke="#000" stroke-width="0.18" font-family='"Liberation Sans", sans-serif'>-0.5</text>
<text transform="translate(52.6,267.8) scale(1,1.06)" font-size="14.7" text-anchor="end" fill="#000" stroke="#000" stroke-width="0.18" font-family='"Liberation Sans", sans-serif'>-1.0</text>
<text transform="translate(52.6,296.75) scale(1,1.06)" font-size="14.7" text-anchor="end" fill="#000" stroke="#000" stroke-width="0.18" font-family='"Liberation Sans", sans-serif'>-1.5</text>
<text transform="translate(52.6,325.7) scale(1,1.06)" font-size="14.7" text-anchor="end" fill="#000" stroke="#000" stroke-width="0.18" font-family='"Liberation Sans", sans-serif'>-2.0</text>
<text transform="translate(52.6,354.65) scale(1,1.06)" font-size="14.7" text-anchor="end" fill="#000" stroke="#000" stroke-width="0.18" font-family='"Liberation Sans", sans-serif'>-2.5</text>
<text transform="translate(52.6,383.6) scale(1,1.06)" font-size="14.7" text-anchor="end" fill="#000" stroke="#000" stroke-width="0.18" font-family='"Liberation Sans", sans-serif'>-3.0</text>
<text transform="translate(329.4,21.2) scale(1,1.06)" font-size="14.7" text-anchor="end" fill="#000" stroke="#000" stroke-width="0.18" font-family='"Liberation Sans", sans-serif'>6.0</text>
<text transform="translate(329.4,62.4) scale(1,1.06)" font-size="14.7" text-anchor="end" fill="#000" stroke="#000" stroke-width="0.18" font-family='"Liberation Sans", sans-serif'>4.8</text>
<text transform="translate(329.4,103.6) scale(1,1.06)" font-size="14.7" text-anchor="end" fill="#000" stroke="#000" stroke-width="0.18" font-family='"Liberation Sans", sans-serif'>3.6</text>
<text transform="translate(329.4,144.8) scale(1,1.06)" font-size="14.7" text-anchor="end" fill="#000" stroke="#000" stroke-width="0.18" font-family='"Liberation Sans", sans-serif'>2.4</text>
<text transform="translate(329.4,186) scale(1,1.06)" font-size="14.7" text-anchor="end" fill="#000" stroke="#000" stroke-width="0.18" font-family='"Liberation Sans", sans-serif'>1.2</text>
<text transform="translate(329.4,225.7) scale(1,1.06)" font-size="14.7" text-anchor="end" fill="#000" stroke="#000" stroke-width="0.18" font-family='"Liberation Sans", sans-serif'>0.0</text>
<text transform="translate(329.4,257.68) scale(1,1.06)" font-size="14.7" text-anchor="end" fill="#000" stroke="#000" stroke-width="0.18" font-family='"Liberation Sans", sans-serif'>-0.4</text>
<text transform="translate(329.4,289.66) scale(1,1.06)" font-size="14.7" text-anchor="end" fill="#000" stroke="#000" stroke-width="0.18" font-family='"Liberation Sans", sans-serif'>-0.8</text>
<text transform="translate(329.4,321.64) scale(1,1.06)" font-size="14.7" text-anchor="end" fill="#000" stroke="#000" stroke-width="0.18" font-family='"Liberation Sans", sans-serif'>-1.2</text>
<text transform="translate(329.4,353.62) scale(1,1.06)" font-size="14.7" text-anchor="end" fill="#000" stroke="#000" stroke-width="0.18" font-family='"Liberation Sans", sans-serif'>-1.6</text>
<text transform="translate(329.4,385.6) scale(1,1.06)" font-size="14.7" text-anchor="end" fill="#000" stroke="#000" stroke-width="0.18" font-family='"Liberation Sans", sans-serif'>-2.0</text>
<text x="66.6" y="411.6" font-size="14" text-anchor="middle" fill="#000" font-family='"Liberation Sans", sans-serif' stroke="#000" stroke-width="0.25">-0.21</text>
<text x="345.19" y="411.6" font-size="14" text-anchor="middle" fill="#000" font-family='"Liberation Sans", sans-serif' stroke="#000" stroke-width="0.25">-0.21</text>
<text x="106.2" y="411.6" font-size="14" text-anchor="middle" fill="#000" font-family='"Liberation Sans", sans-serif' stroke="#000" stroke-width="0.25">-0.14</text>
<text x="386.4" y="411.6" font-size="14" text-anchor="middle" fill="#000" font-family='"Liberation Sans", sans-serif' stroke="#000" stroke-width="0.25">-0.14</text>
<text x="145.8" y="411.6" font-size="14" text-anchor="middle" fill="#000" font-family='"Liberation Sans", sans-serif' stroke="#000" stroke-width="0.25">-0.07</text>
<text x="427.6" y="411.6" font-size="14" text-anchor="middle" fill="#000" font-family='"Liberation Sans", sans-serif' stroke="#000" stroke-width="0.25">-0.07</text>
<text x="187.8" y="411.6" font-size="14" text-anchor="middle" fill="#000" font-family='"Liberation Sans", sans-serif' stroke="#000" stroke-width="0.25">0.00</text>
<text x="471.2" y="411.6" font-size="14" text-anchor="middle" fill="#000" font-family='"Liberation Sans", sans-serif' stroke="#000" stroke-width="0.25">0.00</text>
<text x="227.4" y="411.6" font-size="14" text-anchor="middle" fill="#000" font-family='"Liberation Sans", sans-serif' stroke="#000" stroke-width="0.25">0.07</text>
<text x="512.4" y="411.6" font-size="14" text-anchor="middle" fill="#000" font-family='"Liberation Sans", sans-serif' stroke="#000" stroke-width="0.25">0.07</text>
<text x="267" y="411.6" font-size="14" text-anchor="middle" fill="#000" font-family='"Liberation Sans", sans-serif' stroke="#000" stroke-width="0.25">0.14</text>
<text x="553.6" y="411.6" font-size="14" text-anchor="middle" fill="#000" font-family='"Liberation Sans", sans-serif' stroke="#000" stroke-width="0.25">0.14</text>
<text transform="translate(16.4,148.3) rotate(-90)" font-size="20" font-family='"Liberation Serif", serif' fill="#000">Energy (eV)</text>
<text transform="translate(14,348.3) rotate(-90)" font-size="20" font-family='"Liberation Serif", serif' fill="#000">Energy (eV)</text>
<text x="152" y="436.2" font-size="25" font-family='"Liberation Serif", serif' fill="#000" stroke="#000" stroke-width="0.45">&#949;</text>
<rect x="163.1" y="426.1" width="12.8" height="1.4" fill="#000"/>
<rect x="163.1" y="430.6" width="12.8" height="1.4" fill="#000"/>
<text x="176" y="436.2" font-size="25" font-family='"Liberation Serif", serif' fill="#000" stroke="#000" stroke-width="0.45">&#949;</text>
<text x="186.9" y="445.6" font-size="13" font-family='"Liberation Serif", serif' fill="#000">33</text>
<text x="424.6" y="436.2" font-size="25" font-family='"Liberation Serif", serif' fill="#000" stroke="#000" stroke-width="0.45">&#949;</text>
<rect x="435.7" y="426.1" width="12.8" height="1.4" fill="#000"/>
<rect x="435.7" y="430.6" width="12.8" height="1.4" fill="#000"/>
<text x="448.6" y="436.2" font-size="25" font-family='"Liberation Serif", serif' fill="#000" stroke="#000" stroke-width="0.45">&#949;</text>
<text x="459.5" y="445.6" font-size="13" font-family='"Liberation Serif", serif' fill="#000">33</text>
<text x="119.5" y="26.6" font-size="18.7" text-anchor="start" fill="#800080" font-family='"Liberation Sans", sans-serif' stroke="#800080" stroke-width="0.25">AlN</text>
<text x="384.8" y="26.3" font-size="18.7" text-anchor="start" fill="#800080" font-family='"Liberation Sans", sans-serif' stroke="#800080" stroke-width="0.25">GaN</text>
<text x="72.5" y="168.5" font-size="15.2" text-anchor="start" fill="#000" font-family='"Liberation Sans", sans-serif' stroke="#000" stroke-width="0.15">(a)</text>
<text x="341.3" y="173" font-size="15.2" text-anchor="start" fill="#000" font-family='"Liberation Sans", sans-serif' stroke="#000" stroke-width="0.15">(a)</text>
<text x="72.1" y="331.2" font-size="15.2" text-anchor="start" fill="#000" font-family='"Liberation Sans", sans-serif' stroke="#000" stroke-width="0.15">(b)</text>
<text x="342.2" y="332.6" font-size="15.2" text-anchor="start" fill="#000" font-family='"Liberation Sans", sans-serif' stroke="#000" stroke-width="0.15">(b)</text>
<line x1="129" y1="131.3" x2="158" y2="131.3" stroke="#00ff00" stroke-width="1.5"/>
<polygon points="143.6,123.9 150.41,135.5 136.78,135.5" fill="#00ff00" stroke="none" stroke-width="0" stroke-linejoin="miter"/>
<text x="161" y="135.9" font-size="13" text-anchor="start" fill="#00ff00" font-family='"Liberation Sans", sans-serif' stroke="#00ff00" stroke-width="0.25">(</text>
<line x1="165" y1="131.3" x2="194" y2="131.3" stroke="#00ff00" stroke-width="1.5"/>
<polygon points="179.4,124.65 185.47,134.75 173.33,134.75" fill="#fff" stroke="#00ff00" stroke-width="1.49" stroke-linejoin="miter"/>
<text x="193.8" y="135.9" font-size="13" text-anchor="start" fill="#00ff00" font-family='"Liberation Sans", sans-serif' stroke="#00ff00" stroke-width="0.25">)</text>
<text x="204.3" y="135.9" font-size="13" text-anchor="start" fill="#00ff00" font-family='"Liberation Sans", sans-serif' stroke="#00ff00" stroke-width="0.25">X</text>
<line x1="129" y1="146.6" x2="158" y2="146.6" stroke="#000000" stroke-width="1.5"/>
<circle cx="143.6" cy="146.6" r="5.65" fill="#000000"/>
<text x="161" y="151.2" font-size="13" text-anchor="start" fill="#000000" font-family='"Liberation Sans", sans-serif' stroke="#000000" stroke-width="0.25">(</text>
<line x1="165" y1="146.6" x2="194" y2="146.6" stroke="#000000" stroke-width="1.5"/>
<circle cx="179.4" cy="146.6" r="4.91" fill="#fff" stroke="#000000" stroke-width="1.49"/>
<text x="193.8" y="151.2" font-size="13" text-anchor="start" fill="#000000" font-family='"Liberation Sans", sans-serif' stroke="#000000" stroke-width="0.25">)</text>
<text x="204.3" y="151.2" font-size="13" text-anchor="start" fill="#000000" font-family='"Liberation Sans", sans-serif' stroke="#000000" stroke-width="0.25">M</text>
<line x1="129" y1="162.3" x2="158" y2="162.3" stroke="#ff0000" stroke-width="1.5"/>
<rect x="138.53" y="157.23" width="10.15" height="10.15" fill="#ff0000"/>
<text x="161" y="166.9" font-size="13" text-anchor="start" fill="#ff0000" font-family='"Liberation Sans", sans-serif' stroke="#ff0000" stroke-width="0.25">(</text>
<line x1="165" y1="162.3" x2="194" y2="162.3" stroke="#ff0000" stroke-width="1.5"/>
<rect x="174.98" y="157.88" width="8.83" height="8.83" fill="#fff" stroke="#ff0000" stroke-width="1.32"/>
<text x="193.8" y="166.9" font-size="13" text-anchor="start" fill="#ff0000" font-family='"Liberation Sans", sans-serif' stroke="#ff0000" stroke-width="0.25">)</text>
<text x="204.3" y="166.9" font-size="13.5" text-anchor="start" fill="#ff0000" font-family='"Liberation Serif", serif' stroke="#ff0000" stroke-width="0.1">&#915;</text>
<line x1="172.1" y1="331.2" x2="201.1" y2="331.2" stroke="#008000" stroke-width="1.5"/>
<polygon points="186.7,324.22 181.08,327.71 181.08,334.69 186.7,338.18 192.32,334.69 192.32,327.71" fill="#008000" stroke="none" stroke-width="0" stroke-linejoin="miter"/>
<text x="204.1" y="335.8" font-size="13" text-anchor="start" fill="#008000" font-family='"Liberation Sans", sans-serif' stroke="#008000" stroke-width="0.25">(</text>
<line x1="208.1" y1="331.2" x2="237.1" y2="331.2" stroke="#008000" stroke-width="1.5"/>
<polygon points="222.5,324.97 217.48,328.09 217.48,334.31 222.5,337.43 227.52,334.31 227.52,328.09" fill="#fff" stroke="#008000" stroke-width="1.49" stroke-linejoin="miter"/>
<text x="236.9" y="335.8" font-size="13" text-anchor="start" fill="#008000" font-family='"Liberation Sans", sans-serif' stroke="#008000" stroke-width="0.25">)</text>
<text x="247.4" y="335.8" font-size="13" text-anchor="start" fill="#008000" font-family='"Liberation Sans", sans-serif' stroke="#008000" stroke-width="0.25">A</text>
<line x1="172.1" y1="346.4" x2="201.1" y2="346.4" stroke="#ff00ff" stroke-width="1.5"/>
<polygon points="180.1,342.2 193.3,342.2 186.7,353.8" fill="#ff00ff" stroke="none" stroke-width="0" stroke-linejoin="miter"/>
<text x="204.1" y="351" font-size="13" text-anchor="start" fill="#ff00ff" font-family='"Liberation Sans", sans-serif' stroke="#ff00ff" stroke-width="0.25">(</text>
<line x1="208.1" y1="346.4" x2="237.1" y2="346.4" stroke="#ff00ff" stroke-width="1.5"/>
<polygon points="216.6,342.9 228.4,342.9 222.5,353.1" fill="#fff" stroke="#ff00ff" stroke-width="1.4" stroke-linejoin="miter"/>
<text x="236.9" y="351" font-size="13" text-anchor="start" fill="#ff00ff" font-family='"Liberation Sans", sans-serif' stroke="#ff00ff" stroke-width="0.25">)</text>
<text x="247.4" y="351" font-size="13" text-anchor="start" fill="#ff00ff" font-family='"Liberation Sans", sans-serif' stroke="#ff00ff" stroke-width="0.25">H</text>
<line x1="172.1" y1="362.4" x2="201.1" y2="362.4" stroke="#ff0000" stroke-width="1.5"/>
<rect x="181.62" y="357.32" width="10.15" height="10.15" fill="#ff0000"/>
<text x="204.1" y="367" font-size="13" text-anchor="start" fill="#ff0000" font-family='"Liberation Sans", sans-serif' stroke="#ff0000" stroke-width="0.25">(</text>
<line x1="208.1" y1="362.4" x2="237.1" y2="362.4" stroke="#ff0000" stroke-width="1.5"/>
<rect x="218.08" y="357.98" width="8.83" height="8.83" fill="#fff" stroke="#ff0000" stroke-width="1.32"/>
<text x="236.9" y="367" font-size="13" text-anchor="start" fill="#ff0000" font-family='"Liberation Sans", sans-serif' stroke="#ff0000" stroke-width="0.25">)</text>
<text x="247.4" y="367" font-size="13.5" text-anchor="start" fill="#ff0000" font-family='"Liberation Serif", serif' stroke="#ff0000" stroke-width="0.1">&#915;</text>
<line x1="409" y1="90.2" x2="438" y2="90.2" stroke="#00ff00" stroke-width="1.5"/>
<polygon points="423.6,82.8 430.42,94.4 416.79,94.4" fill="#00ff00" stroke="none" stroke-width="0" stroke-linejoin="miter"/>
<text x="441" y="94.8" font-size="13" text-anchor="start" fill="#00ff00" font-family='"Liberation Sans", sans-serif' stroke="#00ff00" stroke-width="0.25">(</text>
<line x1="445" y1="90.2" x2="474" y2="90.2" stroke="#00ff00" stroke-width="1.5"/>
<polygon points="459.4,83.55 465.47,93.65 453.33,93.65" fill="#fff" stroke="#00ff00" stroke-width="1.49" stroke-linejoin="miter"/>
<text x="473.8" y="94.8" font-size="13" text-anchor="start" fill="#00ff00" font-family='"Liberation Sans", sans-serif' stroke="#00ff00" stroke-width="0.25">)</text>
<text x="481" y="94.8" font-size="13" text-anchor="start" fill="#00ff00" font-family='"Liberation Sans", sans-serif' stroke="#00ff00" stroke-width="0.25">X</text>
<line x1="409" y1="105.1" x2="438" y2="105.1" stroke="#000000" stroke-width="1.5"/>
<circle cx="423.6" cy="105.1" r="5.65" fill="#000000"/>
<text x="441" y="109.7" font-size="13" text-anchor="start" fill="#000000" font-family='"Liberation Sans", sans-serif' stroke="#000000" stroke-width="0.25">(</text>
<line x1="445" y1="105.1" x2="474" y2="105.1" stroke="#000000" stroke-width="1.5"/>
<circle cx="459.4" cy="105.1" r="4.91" fill="#fff" stroke="#000000" stroke-width="1.49"/>
<text x="473.8" y="109.7" font-size="13" text-anchor="start" fill="#000000" font-family='"Liberation Sans", sans-serif' stroke="#000000" stroke-width="0.25">)</text>
<text x="482" y="109.7" font-size="13" text-anchor="start" fill="#000000" font-family='"Liberation Sans", sans-serif' stroke="#000000" stroke-width="0.25">M</text>
<line x1="412.4" y1="162.7" x2="441.4" y2="162.7" stroke="#ff0000" stroke-width="1.5"/>
<rect x="421.93" y="157.62" width="10.15" height="10.15" fill="#ff0000"/>
<text x="444.4" y="167.3" font-size="13" text-anchor="start" fill="#ff0000" font-family='"Liberation Sans", sans-serif' stroke="#ff0000" stroke-width="0.25">(</text>
<line x1="448.4" y1="162.7" x2="477.4" y2="162.7" stroke="#ff0000" stroke-width="1.5"/>
<rect x="458.38" y="158.28" width="8.83" height="8.83" fill="#fff" stroke="#ff0000" stroke-width="1.32"/>
<text x="477.2" y="167.3" font-size="13" text-anchor="start" fill="#ff0000" font-family='"Liberation Sans", sans-serif' stroke="#ff0000" stroke-width="0.25">)</text>
<text x="484" y="167.3" font-size="13.5" text-anchor="start" fill="#ff0000" font-family='"Liberation Serif", serif' stroke="#ff0000" stroke-width="0.1">&#915;</text>
<line x1="472.2" y1="303.2" x2="501.2" y2="303.2" stroke="#008000" stroke-width="1.5"/>
<polygon points="486.8,296.22 481.18,299.71 481.18,306.69 486.8,310.18 492.42,306.69 492.42,299.71" fill="#008000" stroke="none" stroke-width="0" stroke-linejoin="miter"/>
<text x="504.2" y="307.8" font-size="13" text-anchor="start" fill="#008000" font-family='"Liberation Sans", sans-serif' stroke="#008000" stroke-width="0.25">(</text>
<line x1="508.2" y1="303.2" x2="537.2" y2="303.2" stroke="#008000" stroke-width="1.5"/>
<polygon points="522.6,296.97 517.58,300.09 517.58,306.31 522.6,309.43 527.62,306.31 527.62,300.09" fill="#fff" stroke="#008000" stroke-width="1.49" stroke-linejoin="miter"/>
<text x="537" y="307.8" font-size="13" text-anchor="start" fill="#008000" font-family='"Liberation Sans", sans-serif' stroke="#008000" stroke-width="0.25">)</text>
<text x="544.5" y="307.8" font-size="13" text-anchor="start" fill="#008000" font-family='"Liberation Sans", sans-serif' stroke="#008000" stroke-width="0.25">A</text>
<line x1="472.2" y1="318.7" x2="501.2" y2="318.7" stroke="#ff0000" stroke-width="1.5"/>
<rect x="481.73" y="313.62" width="10.15" height="10.15" fill="#ff0000"/>
<text x="504.2" y="323.3" font-size="13" text-anchor="start" fill="#ff0000" font-family='"Liberation Sans", sans-serif' stroke="#ff0000" stroke-width="0.25">(</text>
<line x1="508.2" y1="318.7" x2="537.2" y2="318.7" stroke="#ff0000" stroke-width="1.5"/>
<rect x="518.18" y="314.28" width="8.83" height="8.83" fill="#fff" stroke="#ff0000" stroke-width="1.32"/>
<text x="537" y="323.3" font-size="13" text-anchor="start" fill="#ff0000" font-family='"Liberation Sans", sans-serif' stroke="#ff0000" stroke-width="0.25">)</text>
<text x="544.5" y="323.3" font-size="13.5" text-anchor="start" fill="#ff0000" font-family='"Liberation Serif", serif' stroke="#ff0000" stroke-width="0.1">&#915;</text>
<line x1="472.2" y1="334.1" x2="501.2" y2="334.1" stroke="#ff00ff" stroke-width="1.5"/>
<polygon points="480.2,329.9 493.4,329.9 486.8,341.5" fill="#ff00ff" stroke="none" stroke-width="0" stroke-linejoin="miter"/>
<text x="504.2" y="338.7" font-size="13" text-anchor="start" fill="#ff00ff" font-family='"Liberation Sans", sans-serif' stroke="#ff00ff" stroke-width="0.25">(</text>
<line x1="508.2" y1="334.1" x2="537.2" y2="334.1" stroke="#ff00ff" stroke-width="1.5"/>
<polygon points="516.7,330.6 528.5,330.6 522.6,340.8" fill="#fff" stroke="#ff00ff" stroke-width="1.4" stroke-linejoin="miter"/>
<text x="537" y="338.7" font-size="13" text-anchor="start" fill="#ff00ff" font-family='"Liberation Sans", sans-serif' stroke="#ff00ff" stroke-width="0.25">)</text>
<text x="544.5" y="338.7" font-size="13" text-anchor="start" fill="#ff00ff" font-family='"Liberation Sans", sans-serif' stroke="#ff00ff" stroke-width="0.25">H</text>
</svg>
</body></html>
